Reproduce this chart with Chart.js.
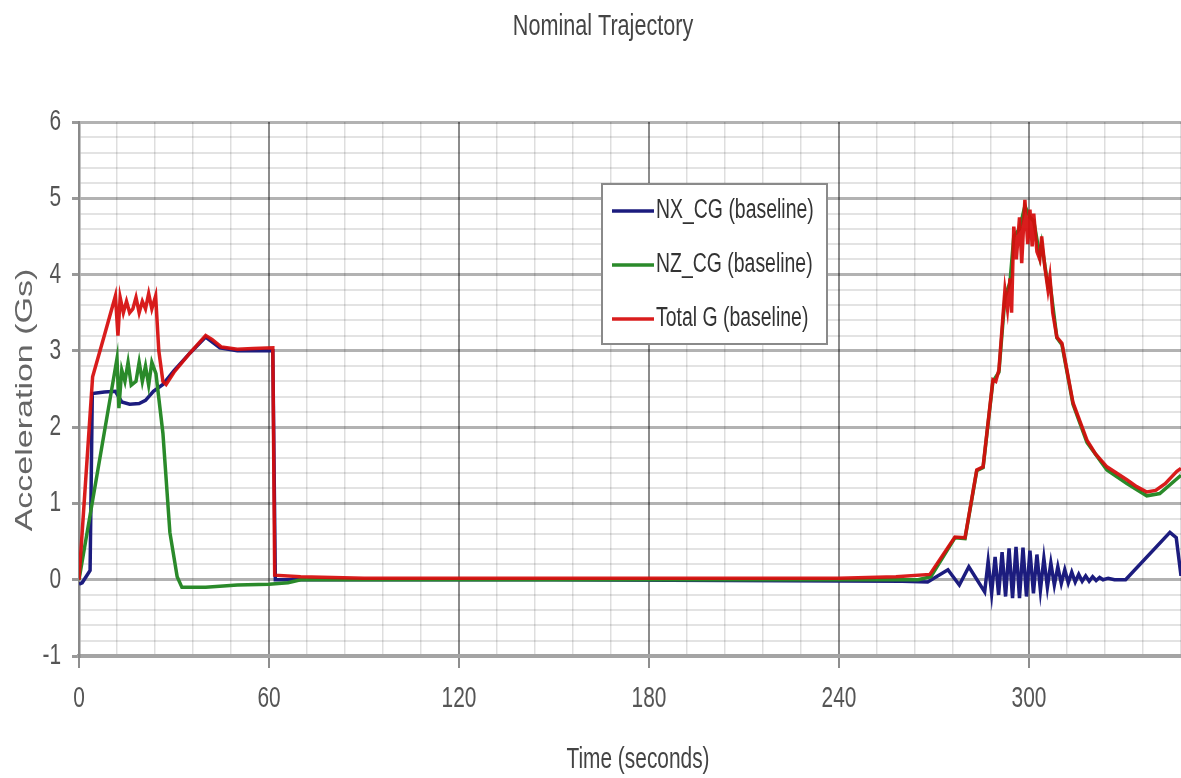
<!DOCTYPE html>
<html>
<head>
<meta charset="utf-8">
<title>Nominal Trajectory</title>
<script src="https://cdn.jsdelivr.net/npm/chart.js@4.4.1/dist/chart.umd.min.js"></script>
<style>
    html, body { margin: 0; padding: 0; background: #fff; }
    #wrap { width: 1181px; height: 778px; position: relative; }
</style>
</head>
<body>
<div id="wrap"><canvas id="traj"></canvas></div>
<script>
// Nominal trajectory: acceleration at CG vs time
// each entry is [time (s), acceleration (G)]

const nxCg = [
    [0, -0.06], [1, -0.04], [3.5, 0.12], [4.2, 2.44], [8, 2.46], [11.5, 2.47],
    [13.5, 2.33], [16, 2.3], [19, 2.31], [21, 2.35], [23.5, 2.47], [26.5, 2.56],
    [30, 2.74], [35, 2.97], [40, 3.18], [44.5, 3.04], [50, 3.0], [55, 3.0],
    [61.2, 3.0], [62, 0.0], [80, 0.0], [150, 0.0], [260, -0.02], [268, -0.03],
    [274.4, 0.13], [278, -0.07], [281, 0.17], [286, -0.16],
    [287.1, 0.24], [288.2, -0.18], [289.3, 0.3], [290.4, -0.2], [291.5, 0.36],
    [292.6, -0.22], [293.7, 0.41], [294.8, -0.24], [295.9, 0.43], [297, -0.24],
    [298.1, 0.42], [299.2, -0.22], [300.3, 0.38], [301.4, -0.18], [302.5, 0.33],
    [303.6, -0.14], [304.7, 0.28], [305.8, -0.1], [306.9, 0.22], [308, -0.07],
    [309.1, 0.17], [310.2, -0.05], [311.3, 0.13], [312.4, -0.04], [313.5, 0.1],
    [314.6, -0.03], [315.7, 0.07], [316.8, -0.02], [317.9, 0.05], [319, -0.02],
    [320.1, 0.04], [321.2, -0.01], [322.3, 0.03], [323.4, 0.0], [325, 0.02],
    [327, 0.0], [330.5, 0.0], [344.5, 0.62], [346.5, 0.55], [348, 0.05],
];

const nzCg = [
    [0, 0.0], [12, 2.9], [12.6, 2.25], [13.5, 2.75], [14.5, 2.6], [15.5, 2.85],
    [16.5, 2.55], [18, 2.6], [19, 2.85], [20, 2.6], [21, 2.8], [22, 2.55],
    [23, 2.85], [24.3, 2.7], [26.5, 1.92], [28.7, 0.62], [31, 0.04], [32.5, -0.1],
    [40, -0.1], [50, -0.07], [60, -0.06], [66, -0.04], [70, 0.0], [265, 0.0],
    [269, 0.04], [276.6, 0.55], [279.8, 0.54], [283.5, 1.43], [285.5, 1.47],
    [288.6, 2.6], [290.5, 2.72], [292.4, 3.7], [294, 3.9], [295.2, 4.5],
    [297, 4.6], [298.7, 4.9], [300.3, 4.75], [301.5, 4.7], [303.4, 4.25],
    [304, 4.4], [306, 3.85], [306.6, 3.9], [308.8, 3.17], [310.4, 3.08],
    [313.9, 2.3], [318.3, 1.8], [324.6, 1.44], [330.9, 1.26], [337.2, 1.1],
    [341.3, 1.13], [348, 1.37],
];

const totalG = [
    [0, 0.0], [4.3, 2.66], [8, 3.2], [11.5, 3.72], [12.3, 3.2], [13, 3.7],
    [14, 3.5], [15, 3.65], [16, 3.5], [17, 3.55], [18, 3.7], [19, 3.5],
    [20, 3.65], [21, 3.55], [22, 3.75], [23, 3.55], [24.2, 3.72], [25.2, 3.0],
    [26.5, 2.6], [27.5, 2.56], [30, 2.72], [35, 2.97], [40, 3.2], [42, 3.15],
    [45, 3.05], [50, 3.02], [55, 3.03], [61.2, 3.04], [61.8, 0.06], [70, 0.04],
    [90, 0.02], [150, 0.02], [240, 0.02], [258, 0.04], [268.7, 0.07],
    [276.6, 0.56], [279.8, 0.55], [283.5, 1.44], [285.5, 1.48], [288.6, 2.62],
    [289.5, 2.6], [290.5, 2.75], [292.4, 3.8], [293.2, 3.55], [294, 3.95],
    [294.5, 3.5], [295.2, 4.63], [296, 4.2], [297, 4.75], [297.7, 4.15],
    [298.7, 4.98], [299.6, 4.4], [300.3, 4.85], [301, 4.37], [301.5, 4.8],
    [302.5, 4.3], [303.4, 4.2], [304, 4.5], [305, 4.1], [306, 3.8], [306.6, 3.97],
    [307.5, 3.5], [308.8, 3.18], [310.4, 3.1], [313.9, 2.32], [318.3, 1.83],
    [321, 1.65], [324.6, 1.48], [330.9, 1.31], [334, 1.22], [337.2, 1.15],
    [340, 1.17], [343, 1.26], [346.7, 1.42], [348, 1.46],
];

const seriesLabels = ['NX_CG (baseline)', 'NZ_CG (baseline)', 'Total G (baseline)'];
const xTickLabels = [0, 60, 120, 180, 240, 300];
const yTickLabels = [-1, 0, 1, 2, 3, 4, 5, 6];
const xLimits = [0, 348];
const yLimits = [-1, 6];

const SANS = '"Liberation Sans", Arial, sans-serif';
// the source picture is squashed sideways, so every text is drawn narrowed
const SQUEEZE = 0.72;

function _pts(arr) {
    return arr.map(([x, y]) => ({ x, y }));
}

function _isMajorX(v) { return Math.abs(v % 60) < 1e-6; }
function _isMajorY(v) { return Math.abs(v - Math.round(v)) < 1e-6; }

function _text(ctx, str, x, y, opts) {
    ctx.save();
    ctx.translate(x, y);
    if (opts.rotate) ctx.rotate(opts.rotate);
    if (opts.rotate) ctx.scale(1, SQUEEZE); else ctx.scale(SQUEEZE, 1);
    ctx.font = opts.font;
    ctx.fillStyle = opts.color;
    ctx.textAlign = opts.align || 'center';
    ctx.textBaseline = 'middle';
    ctx.fillText(str, 0, 0);
    ctx.restore();
}

// all texts: title, tick labels, axis titles and the boxed legend
const textLayer = {
    id: 'textLayer',
    afterDraw(chart) {
        const ctx = chart.ctx;
        const xs = chart.scales.x;
        const ys = chart.scales.y;
        const area = chart.chartArea;

        _text(ctx, 'Nominal Trajectory', 603, 27, { font: '30px ' + SANS, color: '#444' });

        xTickLabels.forEach(v => {
            _text(ctx, String(v), xs.getPixelForValue(v), 699, { font: '29px ' + SANS, color: '#555' });
        });
        yTickLabels.forEach(v => {
            _text(ctx, String(v), 61, ys.getPixelForValue(v), { font: '29px ' + SANS, color: '#555', align: 'right' });
        });

        _text(ctx, 'Time (seconds)', (area.left + area.right) / 2 + 8, 760, { font: '29px ' + SANS, color: '#444' });
        _text(ctx, 'Acceleration (Gs)', 25, 400, { font: '34px ' + SANS, color: '#666', rotate: -Math.PI / 2 });

        const box = { x: 602, y: 184, w: 225, h: 160 };
        ctx.save();
        ctx.fillStyle = '#ffffff';
        ctx.fillRect(box.x, box.y, box.w, box.h);
        ctx.strokeStyle = '#8a8a8a';
        ctx.lineWidth = 2;
        ctx.strokeRect(box.x, box.y, box.w, box.h);
        ctx.restore();
        chart.data.datasets.forEach((ds, i) => {
            const yy = box.y + 27 + i * 54;
            ctx.save();
            ctx.strokeStyle = ds.borderColor;
            ctx.lineWidth = 3.5;
            ctx.beginPath();
            ctx.moveTo(box.x + 10, yy);
            ctx.lineTo(box.x + 52, yy);
            ctx.stroke();
            ctx.restore();
            _text(ctx, ds.label, box.x + 54, yy, { font: '27px ' + SANS, color: '#333', align: 'left' });
        });
    },
};

new Chart(document.getElementById('traj'), {
    type: 'line',
    data: {
        datasets: [
            { label: seriesLabels[0], data: _pts(nxCg), borderColor: '#1c1c7e', order: 2 },
            { label: seriesLabels[1], data: _pts(nzCg), borderColor: '#2a8a2a', order: 1 },
            { label: seriesLabels[2], data: _pts(totalG), borderColor: 'rgba(214, 12, 12, 0.93)', order: 0 },
        ],
    },
    options: {
        responsive: true, maintainAspectRatio: false, animation: false,
        layout: { padding: { top: 122, left: 0, right: 0, bottom: 0 } },
        elements: {
            point: { radius: 0 },
            line: { borderWidth: 3.5, tension: 0, fill: false },
        },
        plugins: {
            legend: { display: false },
            tooltip: { enabled: false },
            title: { display: false },
        },
        scales: {
            x: {
                type: 'linear', min: xLimits[0], max: xLimits[1],
                afterFit: s => { s.height = 122; },
                ticks: { stepSize: 12, autoSkip: false, maxRotation: 0, display: false },
                grid: {
                    color: c => (_isMajorX(c.tick.value) ? 'rgba(0,0,0,0.45)' : 'rgba(0,0,0,0.13)'),
                    lineWidth: c => (_isMajorX(c.tick.value) ? 2 : 1.5),
                    tickColor: c => (_isMajorX(c.tick.value) ? '#8e8e8e' : 'rgba(0,0,0,0)'),
                    tickLength: 12,
                },
                border: { color: '#a4a4a4', width: 4 },
            },
            y: {
                min: yLimits[0], max: yLimits[1],
                afterFit: s => { s.width = 79; },
                ticks: { stepSize: 0.2, autoSkip: false, display: false },
                grid: {
                    color: c => (_isMajorY(c.tick.value) ? 'rgba(0,0,0,0.3)' : 'rgba(0,0,0,0.11)'),
                    lineWidth: c => (_isMajorY(c.tick.value) ? 3 : 2),
                    tickColor: c => (_isMajorY(c.tick.value) ? '#999' : 'rgba(0,0,0,0)'),
                    tickLength: 7,
                },
                border: { color: '#8a8a8a', width: 2.5 },
            },
        },
    },
    plugins: [textLayer],
});
</script>
</body>
</html>
